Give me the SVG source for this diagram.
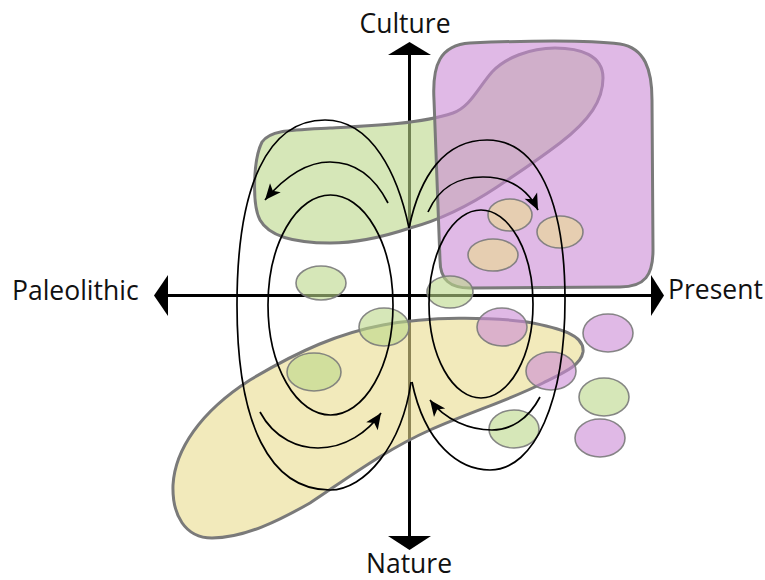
<svg xmlns="http://www.w3.org/2000/svg" width="765" height="580" viewBox="0 0 765 580">
<defs>
<style>
.ax{stroke:#000;stroke-width:3;fill:none}
.ah{fill:#000;stroke:none}
.blob{stroke:#7a7a7a;stroke-width:3;stroke-linejoin:round}
.green{fill:#bbd789;fill-opacity:0.6}
.purple{fill:#cb8ad5;fill-opacity:0.6}
.yellow{fill:#e9dc8e;fill-opacity:0.6}
.dot{stroke:#7a7a7a;stroke-width:1.6;stroke-opacity:0.9}
.loop{fill:none;stroke:#000;stroke-width:1.7}
.lbl{font-family:"Open Sans","Liberation Sans",sans-serif;font-size:26.5px;fill:#111}
</style>
<marker id="arr" viewBox="-18 -9 20 18" refX="0" refY="0" markerWidth="20" markerHeight="18" markerUnits="userSpaceOnUse" orient="auto">
<path d="M0,0 L-16,-7 L-12,0 L-16,7 Z" fill="#000"/>
</marker>
</defs>
<rect width="765" height="580" fill="#fff"/>
<g id="axes">
<line class="ax" x1="409.5" y1="54" x2="409.5" y2="537"/>
<line class="ax" x1="167" y1="295.5" x2="652" y2="295.5"/>
<polygon class="ah" points="409.5,42 431,55 388,55"/>
<polygon class="ah" points="409.5,550 388,536 431,536"/>
<polygon class="ah" points="154,295.5 168,275 168,316"/>
<polygon class="ah" points="664,295.5 651,275 651,316"/>
</g>
<g id="regions">
<path id="green-region" class="blob green" d="M262,142 C270,130 290,130 330,128 C370,126 420,124 453,113 C470,107 478,88 492,72 C505,58 530,48 555,48 C580,48 603,55 603,78 C603,100 590,120 560,143 C535,162 515,175 497,187 C470,205 440,220 410,228 C380,238 350,243 330,243 C300,243 270,238 260,220 C252,205 253,160 262,142 Z"/>
<path id="purple-region" class="blob purple" d="M470,43 C540,40 590,40 620,44 C645,48 652,70 652,100 L653,250 C653,275 645,287 620,287 L470,288 C450,288 440,280 440,260 L434,100 C432,65 440,45 470,43 Z"/>
<path id="yellow-region" class="blob yellow" d="M583,352 C585,335 560,328 527,322 C490,317 430,316 383,325 C340,333 300,350 250,380 C200,412 175,450 173,485 C172,515 185,538 212,538 C245,538 280,520 310,503 C345,480 385,450 430,430 C470,412 510,400 543,383 C565,372 581,365 583,352 Z"/>
</g>
<g id="sites">
<ellipse class="dot yellow" cx="510" cy="215" rx="22" ry="16"/>
<ellipse class="dot yellow" cx="560" cy="232" rx="23" ry="16"/>
<ellipse class="dot yellow" cx="493" cy="255" rx="25" ry="16"/>
<ellipse class="dot green" cx="321" cy="283" rx="25" ry="17"/>
<ellipse class="dot green" cx="450" cy="292" rx="23" ry="16"/>
<ellipse class="dot green" cx="384" cy="327" rx="25" ry="19"/>
<ellipse class="dot green" cx="314" cy="372" rx="27" ry="19"/>
<ellipse class="dot purple" cx="502" cy="327" rx="25" ry="19"/>
<ellipse class="dot purple" cx="608" cy="333" rx="25" ry="19"/>
<ellipse class="dot purple" cx="551" cy="371" rx="25" ry="19"/>
<ellipse class="dot green" cx="604" cy="397" rx="25" ry="19"/>
<ellipse class="dot green" cx="514" cy="429" rx="25" ry="19"/>
<ellipse class="dot purple" cx="600" cy="438" rx="25" ry="19"/>
</g>
<g id="connectors">
<path class="loop" d="M409,228 C398,175 372,120 325,120 C268,120 237,185 237,305 C237,425 270,490 330,490 C365,490 402,445 411,382"/>
<ellipse class="loop" cx="330.5" cy="305" rx="62.5" ry="110"/>
<path class="loop" d="M409,228 C420,175 445,140 487,140 C537,140 565,200 565,300 C565,400 535,470 490,470 C460,470 425,445 412,382"/>
<ellipse class="loop" cx="481" cy="304" rx="52" ry="94"/>
<path class="loop" marker-end="url(#arr)" d="M388,203 C372,172 350,162 330,162 C305,162 282,180 265,200"/>
<path class="loop" marker-end="url(#arr)" d="M428,212 C440,185 460,177 483,177 C510,177 528,190 538,210"/>
<path class="loop" marker-end="url(#arr)" d="M260,412 C275,440 300,448 318,448 C345,448 368,432 381,413"/>
<path class="loop" marker-end="url(#arr)" d="M540,397 C528,420 510,430 492,430 C470,430 445,420 430,400"/>
</g>
<g id="labels">
<text class="lbl" x="405" y="33" text-anchor="middle">Culture</text>
<text class="lbl" x="409" y="573" text-anchor="middle">Nature</text>
<text class="lbl" x="12" y="300">Paleolithic</text>
<text class="lbl" x="668" y="299">Present</text>
</g>
</svg>
